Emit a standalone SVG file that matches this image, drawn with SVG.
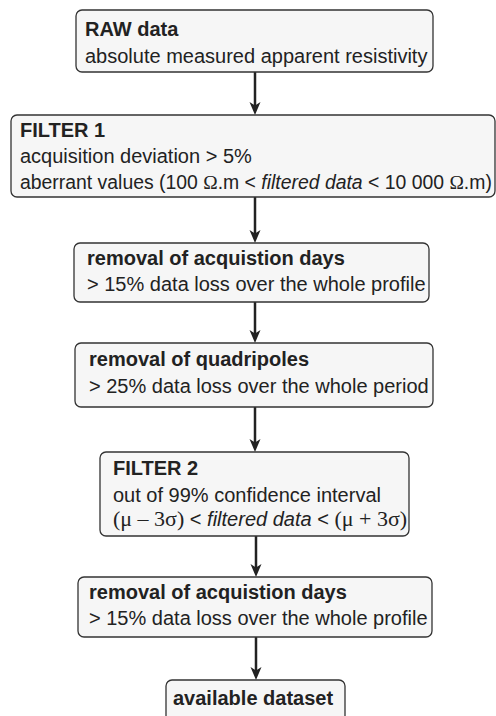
<svg xmlns="http://www.w3.org/2000/svg" width="496" height="716" viewBox="0 0 496 716">
<style>
.box{fill:#f6f6f6;stroke:#333;stroke-width:1.3}
text{font-family:"Liberation Sans",Arial,sans-serif;font-size:20px;fill:#222}
.b{font-weight:bold}
.i{font-style:italic}
.s{font-family:"Liberation Serif","Times New Roman",serif}
.s2{font-family:"Liberation Serif","Times New Roman",serif;font-size:22px}
.c{stroke:#222;stroke-width:2.5;fill:none}
.h{fill:#222}
</style>
<defs>
<path id="ah" d="M-5.5,-13 L0,-9.5 L5.5,-13 L0,0 Z"/>
</defs>
<rect width="496" height="716" fill="#fff"/>
<g id="connectors">
<path class="c" d="M255,72 V106"/>
<use href="#ah" class="h" x="255" y="115"/>
<path class="c" d="M255,197 V234"/>
<use href="#ah" class="h" x="255" y="243"/>
<path class="c" d="M255,302 V334"/>
<use href="#ah" class="h" x="255" y="343"/>
<path class="c" d="M255,407 V443"/>
<use href="#ah" class="h" x="255" y="452"/>
<path class="c" d="M256,536 V568"/>
<use href="#ah" class="h" x="256" y="577"/>
<path class="c" d="M256,637 V671"/>
<use href="#ah" class="h" x="256" y="680"/>
</g>
<g id="n1">
<rect class="box" x="76" y="10" width="357" height="62" rx="6"/>
<text x="85" y="36" class="b">RAW data</text>
<text x="85" y="63">absolute measured apparent resistivity</text>
</g>
<g id="n2">
<rect class="box" x="11" y="115" width="484" height="82" rx="6"/>
<text x="20" y="137" class="b">FILTER 1</text>
<text x="20" y="163">acquisition deviation &gt; 5%</text>
<text x="20" y="189" style="font-size:19.4px">aberrant values (100 <tspan class="s">Ω</tspan>.m &lt; <tspan class="i">filtered data</tspan> &lt; 10 000 <tspan class="s">Ω</tspan>.m)</text>
</g>
<g id="n3">
<rect class="box" x="74" y="243" width="355" height="59" rx="6"/>
<text x="87" y="265" class="b">removal of acquistion days</text>
<text x="87" y="291">&gt; 15% data loss over the whole profile</text>
</g>
<g id="n4">
<rect class="box" x="75" y="343" width="358" height="64" rx="6"/>
<text x="89" y="366" class="b">removal of quadripoles</text>
<text x="89" y="393">&gt; 25% data loss over the whole period</text>
</g>
<g id="n5">
<rect class="box" x="100" y="452" width="309" height="84" rx="6"/>
<text x="113" y="475" class="b">FILTER 2</text>
<text x="113" y="502">out of 99% confidence interval</text>
<text x="113" y="526"><tspan class="s2">(μ – 3σ)</tspan> &lt; <tspan class="i">filtered data</tspan> &lt; <tspan class="s2">(μ + 3σ)</tspan></text>
</g>
<g id="n6">
<rect class="box" x="78" y="577" width="354" height="60" rx="6"/>
<text x="89" y="599" class="b">removal of acquistion days</text>
<text x="89" y="625">&gt; 15% data loss over the whole profile</text>
</g>
<g id="n7">
<rect class="box" x="166" y="680" width="179" height="50" rx="6"/>
<text x="173" y="705" class="b">available dataset</text>
</g>
</svg>
